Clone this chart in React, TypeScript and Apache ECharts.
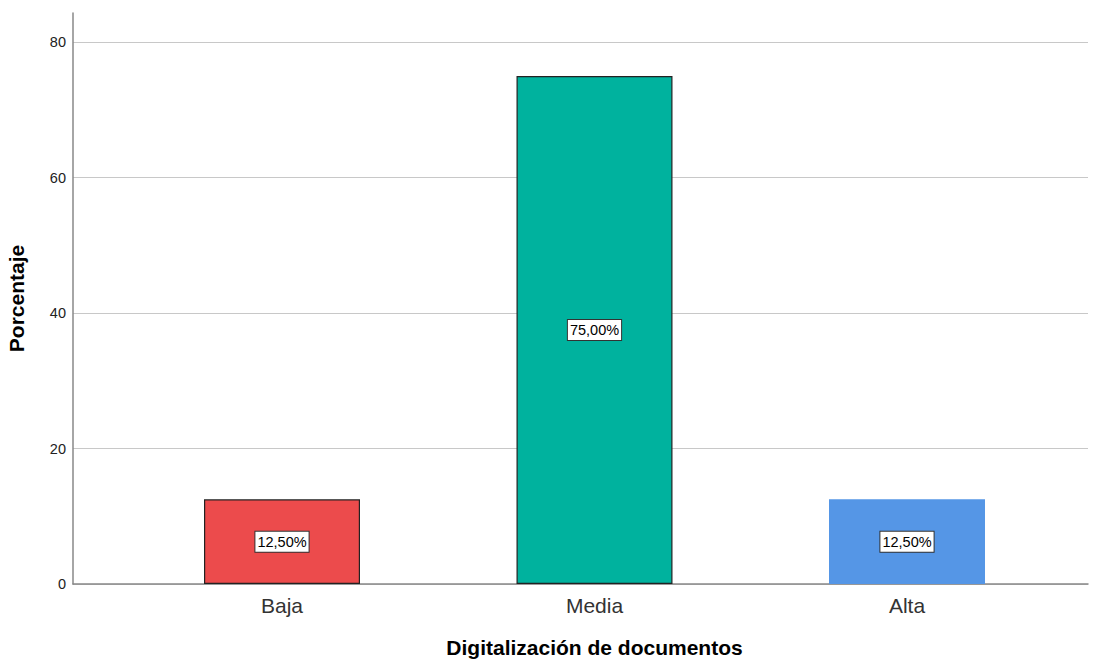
import React, { useEffect, useRef } from "react";
import * as echarts from "echarts";

const categories = ["Baja", "Media", "Alta"];
const percentages = [12.5, 75.0, 12.5];
const barColors = ["#EC4B4C", "#00B29E", "#5596E6"];
const barBorders = ["#222222", "#222222", "#5596E6"];
const yTicks = [0, 20, 40, 60, 80];

const Y_MAX = 84.3;

export default function App() {
  const ref = useRef<HTMLDivElement>(null);
  useEffect(() => {
    document.body.style.margin = "0";
    const chart = echarts.init(ref.current!, null, { renderer: "svg" });
    const font = "'Liberation Sans', Arial, sans-serif";
    chart.setOption({
      animation: false,
      backgroundColor: "#ffffff",
      grid: [
        { left: 73, right: 15, top: 13, bottom: 75, outerBoundsMode: "none", containLabel: false },
        { left: 125.75, right: 39.75, top: 13, bottom: 75, outerBoundsMode: "none", containLabel: false },
      ],
      xAxis: [
        {
          type: "value",
          gridIndex: 0,
          min: 0,
          max: 1,
          axisLine: { show: true, onZero: false, lineStyle: { color: "#888888", width: 1.5 } },
          axisTick: { show: false },
          axisLabel: { show: false },
          splitLine: { show: false },
        },
        {
          type: "category",
          gridIndex: 1,
          data: categories,
          axisLine: { show: false },
          axisTick: { show: false },
          axisLabel: { color: "#333333", fontSize: 21, fontFamily: font, margin: 11 },
          name: "Digitalización de documentos",
          nameLocation: "middle",
          nameGap: 53,
          nameTextStyle: { color: "#000000", fontSize: 21, fontWeight: "bold", fontFamily: font },
        },
      ],
      yAxis: [
        {
          type: "value",
          gridIndex: 0,
          min: 0,
          max: Y_MAX,
          interval: 20,
          axisLine: { show: true, lineStyle: { color: "#888888", width: 1.5 } },
          axisTick: { show: false },
          axisLabel: {
            color: "#222222",
            fontSize: 14.5,
            fontFamily: font,
            margin: 7,
            showMaxLabel: false,
            formatter: (v: number) => (yTicks.includes(v) ? String(v) : ""),
          },
          splitLine: { show: true, showMaxLine: false, lineStyle: { color: "#c8c8c8", width: 1.2 } },
          name: "Porcentaje",
          nameLocation: "middle",
          nameGap: 46,
          nameTextStyle: { color: "#000000", fontSize: 21, fontWeight: "bold", fontFamily: font },
        },
        {
          type: "value",
          gridIndex: 1,
          min: 0,
          max: Y_MAX,
          show: false,
        },
      ],
      series: [
        {
          type: "bar",
          xAxisIndex: 1,
          yAxisIndex: 1,
          barWidth: 156,
          data: percentages.map((v, i) => ({
            value: v,
            itemStyle: { color: barColors[i], borderColor: barBorders[i], borderWidth: 1.2 },
          })),
          label: {
            show: true,
            position: "inside",
            formatter: (p: any) => p.value.toFixed(2).replace(".", ",") + "%",
            color: "#000000",
            fontSize: 14.5,
            fontFamily: font,
            backgroundColor: "#ffffff",
            borderColor: "#333333",
            borderWidth: 1,
            padding: [3, 2, 2, 2],
          },
        },
      ],
    });
    return () => chart.dispose();
  }, []);
  return <div ref={ref} style={{ width: 1103, height: 659 }} />;
}
